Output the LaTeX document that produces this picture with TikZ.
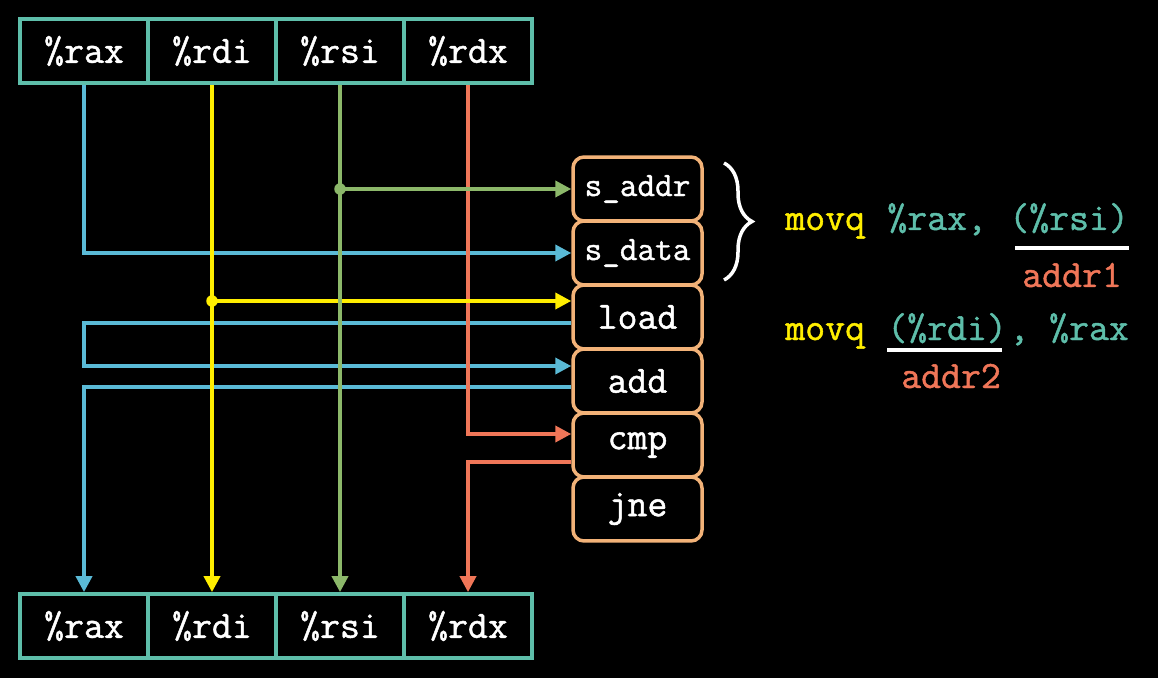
\documentclass[tikz,border=0pt]{standalone}
\usepackage{fontspec}
\setmonofont{Latin Modern Mono}[FakeBold=1.2]
\usetikzlibrary{arrows.meta,decorations.pathreplacing,calc}
\definecolor{regteal}{RGB}{94,190,170}
\definecolor{cblue}{RGB}{90,186,214}
\definecolor{cyel}{RGB}{255,238,0}
\definecolor{cgreen}{RGB}{140,184,106}
\definecolor{cred}{RGB}{240,118,88}
\definecolor{corange}{RGB}{242,178,120}
\begin{document}
\begin{tikzpicture}[x=0.02cm,y=-0.02cm,
  reg/.style={draw=regteal, line width=0.075cm, minimum width=2.56cm, minimum height=1.28cm, inner sep=0pt, text=white, font=\fontsize{22}{26}\selectfont\ttfamily},
  ins/.style={draw=corange, line width=0.07cm, rounded corners=0.22cm, minimum width=2.58cm, minimum height=1.28cm, inner sep=0pt, text=white, font=\fontsize{22}{26}\selectfont\ttfamily},
  insS/.style={ins, font=\fontsize{19.5}{23}\selectfont\ttfamily},
  wire/.style={line width=0.075cm},
  tip/.style={-{Triangle[length=0.32cm,width=0.32cm]}},
  dotn/.style={circle, fill, inner sep=0pt, minimum size=0.23cm},
  code/.style={font=\fontsize{22}{26}\selectfont\ttfamily, inner sep=0pt, anchor=base west},
  ul/.style={white, line width=0.07cm}
]
\useasboundingbox (0,0) rectangle (1158,678);
\fill[black] (0,0) rectangle (1158,678);

% registers
\node[reg] (raxT) at (84,51) {\%rax};
\node[reg] (rdiT) at (212,51) {\%rdi};
\node[reg] (rsiT) at (340,51) {\%rsi};
\node[reg] (rdxT) at (468,51) {\%rdx};
\node[reg] (raxB) at (84,626) {\%rax};
\node[reg] (rdiB) at (212,626) {\%rdi};
\node[reg] (rsiB) at (340,626) {\%rsi};
\node[reg] (rdxB) at (468,626) {\%rdx};

% micro-ops
\node[insS] (saddr) at (637.5,189) {s\_addr};
\node[insS] (sdata) at (637.5,253) {s\_data};
\node[ins] (load) at (637.5,317) {load};
\node[ins] (add) at (637.5,381) {add};
\node[ins] (cmp) at (637.5,445) {cmp};
\node[ins] (jne) at (637.5,509) {jne};

% blue (%rax)
\coordinate (b1) at (84,323);
\coordinate (b2) at (84,366);
\coordinate (b3) at (84,387);
\draw[wire,cblue,tip] (raxT.south) |- (sdata.west);
\draw[wire,cblue,tip] (load.west |- b1) -- (b1) -- (b2) -- (add.west |- b2);
\draw[wire,cblue,tip] (add.west |- b3) -- (b3) -- (raxB.north);

% red (%rdx)
\coordinate (r1) at (468,434);
\coordinate (r2) at (468,462);
\draw[wire,cred,tip] (rdxT.south) -- (r1) -- (cmp.west |- r1);
\draw[wire,cred,tip] (cmp.west |- r2) -- (r2) -- (rdxB.north);

% yellow (%rdi)
\coordinate (yd) at (212,301);
\draw[wire,cyel,tip] (rdiT.south) -- (rdiB.north);
\draw[wire,cyel,tip] (yd) -- (load.west |- yd);
\node[dotn,cyel] (ydot) at (yd) {};

% green (%rsi)
\coordinate (gd) at (340,189);
\draw[wire,cgreen,tip] (rsiT.south) -- (rsiB.north);
\draw[wire,cgreen,tip] (gd) -- (saddr.west |- gd);
\node[dotn,cgreen] (gdot) at (gd) {};

% brace
\draw[white, line width=0.07cm, decorate, decoration={brace, amplitude=0.56cm}] (724,163) -- (724,280);

% code line 1
\node[code,text=cyel] (mv1) at (785,230) {movq};
\node[code,text=regteal] (op1a) at (887,230) {\%rax,};
\node[code,text=regteal] (op1b) at (1009,230) {(\%rsi)};
\coordinate (u1) at (0,248);
\draw[ul, shorten <=0.12cm] (op1b.west |- u1) -- (op1b.east |- u1);
\node[code,anchor=base,text=cred] (addr1) at ($(op1b.base)+(3,57)$) {addr1};

% code line 2
\node[code,text=cyel] (mv2) at (785,340) {movq};
\node[code,text=regteal] (op2a) at (887,340) {(\%rdi)};
\node[code,text=regteal] (op2b) at (1009,340) {, \%rax};
\coordinate (u2) at (0,350);
\draw[ul, shorten >=0.1cm] (op2a.west |- u2) -- (op2a.east |- u2);
\node[code,anchor=base,text=cred] (addr2) at ($(op2a.base)+(4,48)$) {addr2};
\end{tikzpicture}
\end{document}
